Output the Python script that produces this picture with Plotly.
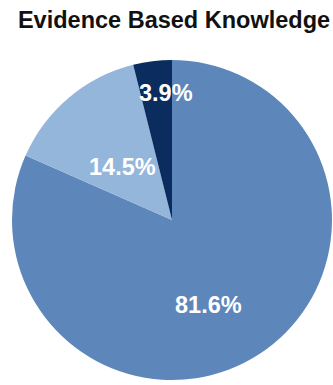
import plotly.graph_objects as go

# Share of responses per knowledge source
categories = ["Evidence based", "Partly evidence based", "Not evidence based"]
shares = [81.6, 14.5, 3.9]
colors = ["#5D87BA", "#94B6DB", "#0B2C5F"]

# Where each percentage label sits (paper coordinates of the pie area)
label_x = [0.6125, 0.345, 0.48]
label_y = [0.239, 0.663, 0.89]

W, H = 333, 385
FONT = "Liberation Sans, Arial, sans-serif"

fig = go.Figure(
    go.Pie(
        labels=categories,
        values=shares,
        sort=False,
        direction="clockwise",
        rotation=0,
        marker=dict(colors=colors, line=dict(width=0)),
        textinfo="none",
        showlegend=False,
        hoverinfo="label+percent",
    )
)

for v, lx, ly in zip(shares, label_x, label_y):
    fig.add_annotation(
        x=lx, y=ly, xref="paper", yref="paper",
        text=f"<b>{v:.1f}%</b>",
        showarrow=False,
        xanchor="center", yanchor="middle",
        font=dict(family=FONT, size=23.5, color="white"),
    )

fig.update_layout(
    width=W,
    height=H,
    margin=dict(l=12, r=1, t=57, b=2),
    paper_bgcolor="white",
    plot_bgcolor="white",
    title=dict(
        text="<b>Evidence Based Knowledge</b>",
        x=174 / W,
        xanchor="center",
        xref="container",
        y=1 - 20 / H,
        yanchor="middle",
        yref="container",
        font=dict(family=FONT, size=23.5, color="#111111"),
    ),
)

fig.write_html("out.html")
